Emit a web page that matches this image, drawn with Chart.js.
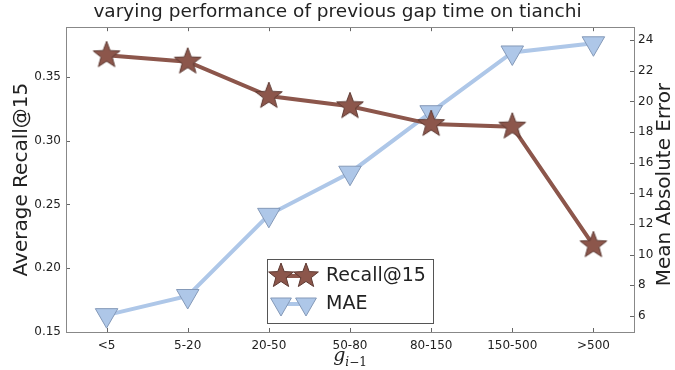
<!DOCTYPE html>
<html lang="en">
<head>
    <meta charset="UTF-8">
    <title>varying performance of previous gap time on tianchi</title>
    <script src="https://cdn.jsdelivr.net/npm/chart.js@4.4.1/dist/chart.umd.min.js"></script>
    <style>
        html, body { margin: 0; padding: 0; background: #fff; }
        #wrap { width: 675px; height: 370px; }
    </style>
</head>
<body>
    <div id="wrap"><canvas id="gapChart" width="675" height="370"></canvas></div>

    <script>
        const categories = ['<5', '5-20', '20-50', '50-80', '80-150', '150-500', '>500'];
        const recall = [0.367, 0.362, 0.335, 0.327, 0.313, 0.311, 0.218];
        const mae = [6.05, 7.3, 12.6, 15.35, 19.3, 23.2, 23.8];
        const recallTicks = [0.15, 0.20, 0.25, 0.30, 0.35];
        const maeTicks = [6, 8, 10, 12, 14, 16, 18, 20, 22, 24];

        const brown = '#8c564b';
        const brownEdge = '#5e3a33';
        const blue = '#aec7e8';
        const blueEdge = '#8499b8';
        const textColor = '#222';
        const font = 'DejaVu Sans';

        // filled five-point star used as the point style
        function makeStar(r) {
            const c = document.createElement('canvas');
            const s = Math.ceil(r * 2 + 4);
            c.width = s; c.height = s;
            const g = c.getContext('2d');
            drawStar(g, s / 2, s / 2, r);
            return c;
        }
        function drawStar(g, cx, cy, r) {
            const inner = r * 0.42;
            g.beginPath();
            for (let i = 0; i < 10; i++) {
                const rr = i % 2 === 0 ? r : inner;
                const a = -Math.PI / 2 + i * Math.PI / 5;
                const px = cx + Math.cos(a) * rr, py = cy + Math.sin(a) * rr;
                if (i === 0) g.moveTo(px, py); else g.lineTo(px, py);
            }
            g.closePath();
            g.fillStyle = brown;
            g.fill();
            g.strokeStyle = brownEdge;
            g.lineWidth = 1;
            g.stroke();
        }
        function drawTri(g, cx, cy, r) {
            g.beginPath();
            for (let i = 0; i < 3; i++) {
                const a = Math.PI / 2 + i * 2 * Math.PI / 3;
                const px = cx + Math.cos(a) * r, py = cy + Math.sin(a) * r;
                if (i === 0) g.moveTo(px, py); else g.lineTo(px, py);
            }
            g.closePath();
            g.fillStyle = blue;
            g.fill();
            g.strokeStyle = blueEdge;
            g.lineWidth = 1;
            g.stroke();
        }

        const starImg = makeStar(14);

        const framePlugin = {
            id: 'frame',
            afterDraw(chart) {
                const ctx = chart.ctx;
                const a = chart.chartArea;
                ctx.save();
                // inward tick marks
                ctx.strokeStyle = '#666';
                ctx.lineWidth = 1;
                const x = chart.scales.x, yl = chart.scales.y, yr = chart.scales.y2;
                ctx.beginPath();
                x.ticks.forEach((t, i) => {
                    const px = Math.round(x.getPixelForTick(i)) + 0.5;
                    ctx.moveTo(px, a.bottom); ctx.lineTo(px, a.bottom - 4);
                    ctx.moveTo(px, a.top); ctx.lineTo(px, a.top + 4);
                });
                yl.ticks.forEach((t) => {
                    const py = Math.round(yl.getPixelForValue(t.value)) + 0.5;
                    ctx.moveTo(a.left, py); ctx.lineTo(a.left + 4, py);
                });
                yr.ticks.forEach((t) => {
                    const py = Math.round(yr.getPixelForValue(t.value)) + 0.5;
                    ctx.moveTo(a.right, py); ctx.lineTo(a.right - 4, py);
                });
                ctx.stroke();
                // plot frame
                ctx.strokeStyle = '#888';
                ctx.strokeRect(Math.round(a.left) + 0.5, Math.round(a.top) + 0.5,
                    Math.round(a.right - a.left), Math.round(a.bottom - a.top));

                // right axis title, reading bottom to top
                ctx.fillStyle = textColor;
                ctx.font = '20px "' + font + '"';
                ctx.textAlign = 'center';
                ctx.textBaseline = 'middle';
                ctx.translate(665, (a.top + a.bottom) / 2 + 5);
                ctx.rotate(-Math.PI / 2);
                ctx.fillText('Mean Absolute Error', 0, 0);
                ctx.setTransform(1, 0, 0, 1, 0, 0);

                // x axis title g_{i-1}
                const cx = (a.left + a.right) / 2;
                ctx.textAlign = 'left';
                ctx.textBaseline = 'alphabetic';
                ctx.font = 'italic 19px "DejaVu Serif"';
                const gw = ctx.measureText('g').width;
                ctx.font = '12px "DejaVu Serif"';
                const sw = ctx.measureText('i\u22121').width;
                const x0 = cx - (gw + sw) / 2;
                ctx.font = 'italic 19px "DejaVu Serif"';
                ctx.fillText('g', x0, 361);
                ctx.font = 'italic 12px "DejaVu Serif"';
                ctx.fillText('i', x0 + gw, 366);
                const iw = ctx.measureText('i').width;
                ctx.font = '12px "DejaVu Serif"';
                ctx.fillText('\u22121', x0 + gw + iw, 366);

                // legend box
                const lx = 267, ly = 259, lw = 166, lh = 64;
                ctx.fillStyle = '#fff';
                ctx.fillRect(lx, ly, lw, lh);
                ctx.strokeStyle = '#555';
                ctx.strokeRect(lx + 0.5, ly + 0.5, lw, lh);
                const r1 = ly + 17, r2 = ly + 45;
                ctx.lineWidth = 4;
                ctx.strokeStyle = brown;
                ctx.beginPath(); ctx.moveTo(lx + 14, r1); ctx.lineTo(lx + 39, r1); ctx.stroke();
                ctx.strokeStyle = blue;
                ctx.beginPath(); ctx.moveTo(lx + 14, r2); ctx.lineTo(lx + 39, r2); ctx.stroke();
                drawStar(ctx, lx + 14, r1, 13);
                drawStar(ctx, lx + 39, r1, 13);
                drawTri(ctx, lx + 14, r2, 12);
                drawTri(ctx, lx + 39, r2, 12);
                ctx.fillStyle = textColor;
                ctx.font = '19px "' + font + '"';
                ctx.textBaseline = 'middle';
                ctx.fillText('Recall@15', lx + 59, r1);
                ctx.fillText('MAE', lx + 59, r2);
                ctx.restore();
            }
        };

        const ctx = document.getElementById('gapChart').getContext('2d');
        new Chart(ctx, {
            type: 'line',
            data: {
                labels: categories,
                datasets: [{
                    label: 'Recall@15',
                    data: recall,
                    yAxisID: 'y',
                    borderColor: brown,
                    borderWidth: 4,
                    tension: 0,
                    fill: false,
                    pointStyle: starImg,
                    pointRadius: 14,
                    order: 0
                }, {
                    label: 'MAE',
                    data: mae,
                    yAxisID: 'y2',
                    borderColor: blue,
                    borderWidth: 4,
                    tension: 0,
                    fill: false,
                    pointStyle: 'triangle',
                    rotation: 180,
                    pointRadius: 13,
                    pointBackgroundColor: blue,
                    pointBorderColor: blueEdge,
                    pointBorderWidth: 1,
                    order: 1
                }]
            },
            options: {
                responsive: false,
                animation: false,
                layout: { padding: 0 },
                plugins: {
                    legend: { display: false },
                    tooltip: { enabled: false },
                    title: {
                        display: true,
                        text: 'varying performance of previous gap time on tianchi',
                        color: textColor,
                        font: { family: font, size: 18.5, weight: 'normal' },
                        padding: { top: 1, bottom: 4 }
                    }
                },
                scales: {
                    x: {
                        offset: true,
                        grid: { display: false, drawTicks: false },
                        border: { display: false },
                        ticks: {
                            color: textColor,
                            font: { family: font, size: 12 },
                            padding: 7,
                            maxRotation: 0
                        },
                        afterFit(s) { s.height = 38; }
                    },
                    y: {
                        position: 'left',
                        min: 0.15,
                        max: 0.389,
                        grid: { display: false, drawTicks: false },
                        border: { display: false },
                        afterBuildTicks(s) { s.ticks = recallTicks.map(v => ({ value: v })); },
                        ticks: {
                            color: textColor,
                            font: { family: font, size: 12 },
                            padding: 5,
                            callback: v => v.toFixed(2)
                        },
                        title: {
                            display: true,
                            text: 'Average Recall@15',
                            color: textColor,
                            font: { family: font, size: 20 },
                            padding: { top: 10, bottom: 0 }
                        },
                        afterFit(s) { s.width = 66; }
                    },
                    y2: {
                        position: 'right',
                        min: 4.95,
                        max: 24.85,
                        grid: { display: false, drawTicks: false },
                        border: { display: false },
                        afterBuildTicks(s) { s.ticks = maeTicks.map(v => ({ value: v })); },
                        ticks: {
                            color: textColor,
                            font: { family: font, size: 12 },
                            padding: 4
                        },
                        afterFit(s) { s.width = 41; }
                    }
                }
            },
            plugins: [framePlugin]
        });
    </script>
</body>
</html>
